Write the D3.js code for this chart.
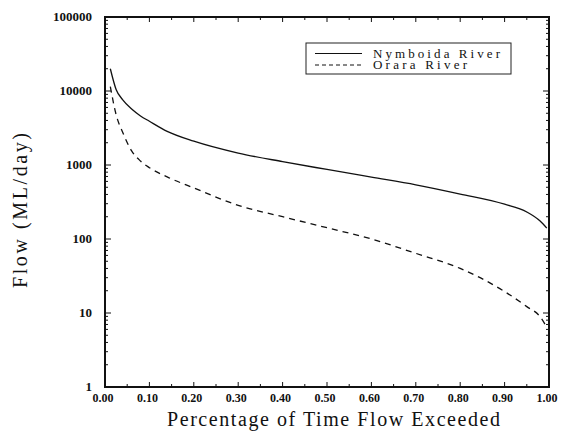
<!DOCTYPE html>
<html>
<head>
<meta charset="utf-8">
<script src="https://cdn.jsdelivr.net/npm/d3@7"></script>
<style>
  html, body { margin: 0; padding: 0; background: #fff; }
  svg { display: block; }
</style>
</head>
<body>
<svg id="chart" width="564" height="431"></svg>
<script>
// Flow duration curves: fraction of time a flow is exceeded
const exceedance = [0.012, 0.025, 0.04, 0.06, 0.08, 0.10, 0.14, 0.20, 0.30, 0.40,
                    0.50, 0.60, 0.70, 0.80, 0.90, 0.95, 0.98, 0.995];
const nymboida = [20000, 10500, 7600, 5700, 4600, 3900, 2850, 2100, 1450, 1110,
                  870, 685, 540, 405, 295, 232, 175, 140];
const orara = [11500, 4800, 2750, 1550, 1130, 920, 690, 490, 285, 200,
               142, 100, 64, 40, 19.5, 12.2, 8.9, 6.4];
const seriesNames = ["Nymboida River", "Orara River"];
const xTickValues = [0, 0.1, 0.2, 0.3, 0.4, 0.5, 0.6, 0.7, 0.8, 0.9, 1.0];
const yTickValues = [1, 10, 100, 1000, 10000, 100000];

const serif = "'Liberation Serif'";

const svg = d3.select("#chart");
const plotL = 105, plotR = 549, plotT = 17, plotB = 387;

const x = d3.scaleLinear().domain([0, 1]).range([plotL, plotR]);
const y = d3.scaleLog().domain([1, 100000]).range([plotB, plotT]);

// minor log ticks 2..9 in each decade
const minorY = [];
for (let e = 0; e < 5; e++) for (let k = 2; k <= 9; k++) minorY.push(k * Math.pow(10, e));
const minorX = d3.range(0.05, 1, 0.1);

const tickG = svg.append("g").attr("stroke", "#111").attr("stroke-width", 1);
// left and right axes: major + minor ticks, pointing inward
yTickValues.forEach(v => {
  tickG.append("line").attr("x1", plotL).attr("x2", plotL + 6).attr("y1", y(v)).attr("y2", y(v));
  tickG.append("line").attr("x1", plotR).attr("x2", plotR - 6).attr("y1", y(v)).attr("y2", y(v));
});
minorY.forEach(v => {
  tickG.append("line").attr("x1", plotL).attr("x2", plotL + 3).attr("y1", y(v)).attr("y2", y(v));
  tickG.append("line").attr("x1", plotR).attr("x2", plotR - 3).attr("y1", y(v)).attr("y2", y(v));
});
// top and bottom axes
xTickValues.forEach(v => {
  tickG.append("line").attr("x1", x(v)).attr("x2", x(v)).attr("y1", plotB).attr("y2", plotB - 5);
  tickG.append("line").attr("x1", x(v)).attr("x2", x(v)).attr("y1", plotT).attr("y2", plotT + 5);
});
minorX.forEach(v => {
  tickG.append("line").attr("x1", x(v)).attr("x2", x(v)).attr("y1", plotB).attr("y2", plotB - 3);
  tickG.append("line").attr("x1", x(v)).attr("x2", x(v)).attr("y1", plotT).attr("y2", plotT + 3);
});

// frame
svg.append("rect")
  .attr("x", plotL).attr("y", plotT)
  .attr("width", plotR - plotL).attr("height", plotB - plotT)
  .attr("fill", "none").attr("stroke", "#111").attr("stroke-width", 2);

// tick labels
svg.append("g").selectAll("text").data(yTickValues).join("text")
  .attr("x", plotL - 13).attr("y", d => y(d) + 4)
  .attr("text-anchor", "end")
  .attr("font-size", 13)
  .style("font-family", serif)
  .style("font-weight", "bold")
  .attr("fill", "#111")
  .text(d => d3.format("d")(d));

svg.append("g").selectAll("text").data(xTickValues).join("text")
  .attr("x", d => x(d) - 2).attr("y", plotB + 15)
  .attr("text-anchor", "middle")
  .attr("font-size", 12)
  .style("font-family", serif)
  .style("font-weight", "bold")
  .attr("fill", "#111")
  .text(d => d3.format(".2f")(d));

// axis titles
svg.append("text")
  .attr("x", 167).attr("y", 426)
  .attr("font-size", 20)
  .attr("textLength", 333).attr("lengthAdjust", "spacing")
  .style("font-family", serif)
  .attr("fill", "#111")
  .text("Percentage of Time Flow Exceeded");

svg.append("text")
  .attr("transform", "translate(27,288) rotate(-90)")
  .attr("font-size", 20)
  .attr("textLength", 155).attr("lengthAdjust", "spacing")
  .style("font-family", serif)
  .attr("fill", "#111")
  .text("Flow (ML/day)");

// curves
const line = d3.line()
  .x(d => x(d[0]))
  .y(d => y(d[1]))
  .curve(d3.curveMonotoneX);

svg.append("path")
  .datum(exceedance.map((p, i) => [p, nymboida[i]]))
  .attr("d", line)
  .attr("fill", "none").attr("stroke", "#111").attr("stroke-width", 1.3);

svg.append("path")
  .datum(exceedance.map((p, i) => [p, orara[i]]))
  .attr("d", line)
  .attr("fill", "none").attr("stroke", "#111").attr("stroke-width", 1.3)
  .attr("stroke-dasharray", "6,5");

// legend
const lg = svg.append("g");
lg.append("rect")
  .attr("x", 306).attr("y", 43)
  .attr("width", 205).attr("height", 31)
  .attr("fill", "#fff").attr("stroke", "#222").attr("stroke-width", 1);
const dashes = [null, "4,3"];
const legendWidths = [127, 94];
seriesNames.forEach((name, i) => {
  const ly = 53.5 + i * 11.5;
  lg.append("line")
    .attr("x1", 315).attr("x2", 362).attr("y1", ly).attr("y2", ly)
    .attr("stroke", "#111").attr("stroke-width", 1)
    .attr("stroke-dasharray", dashes[i]);
  lg.append("text")
    .attr("x", 373).attr("y", ly + 4)
    .attr("font-size", 13)
    .attr("textLength", legendWidths[i]).attr("lengthAdjust", "spacing")
    .style("font-family", serif)
    .attr("fill", "#111")
    .text(name);
});
</script>
</body>
</html>
